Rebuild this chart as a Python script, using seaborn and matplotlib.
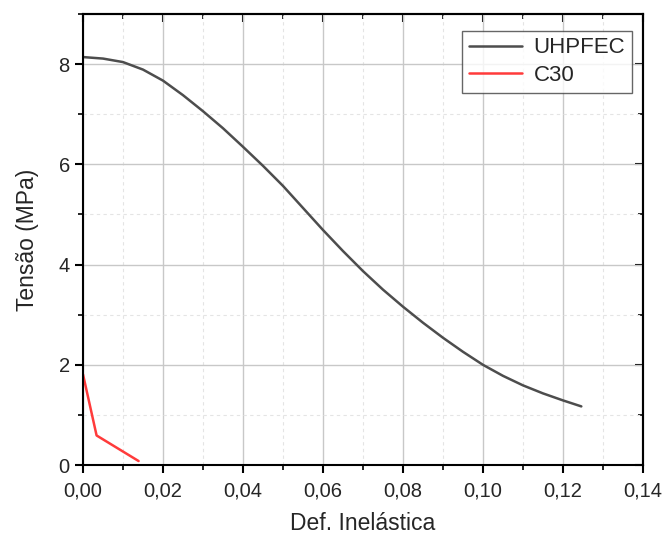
import matplotlib
matplotlib.use("Agg")
import matplotlib.pyplot as plt
from matplotlib.ticker import MultipleLocator, FuncFormatter
import pandas as pd
import seaborn as sns

# curve values
uhpfec_x = [0.0, 0.005, 0.01, 0.015, 0.02, 0.025, 0.03, 0.035, 0.04, 0.045, 0.05, 0.055, 0.06,
            0.065, 0.07, 0.075, 0.08, 0.085, 0.09, 0.095, 0.10, 0.105, 0.11, 0.115, 0.12, 0.1246]
uhpfec_y = [8.14, 8.11, 8.04, 7.89, 7.67, 7.38, 7.06, 6.72, 6.35, 5.97, 5.57, 5.13, 4.69,
            4.27, 3.87, 3.50, 3.16, 2.84, 2.54, 2.26, 2.00, 1.78, 1.59, 1.43, 1.29, 1.17]
c30_x = [0.0, 0.0034, 0.0139]
c30_y = [1.81, 0.59, 0.08]

df = pd.concat([
    pd.DataFrame({"x": uhpfec_x, "y": uhpfec_y, "serie": "UHPFEC"}),
    pd.DataFrame({"x": c30_x, "y": c30_y, "serie": "C30"}),
])

sns.set_style("white")
plt.rcParams['font.family'] = ['Liberation Sans', 'DejaVu Sans']

fig = plt.figure(figsize=(6.65, 5.37), dpi=100)
ax = fig.add_axes([0.1248, 0.134, 0.842, 0.84])

sns.lineplot(data=df, x="x", y="y", hue="serie", palette={"UHPFEC": "#4d4d4d", "C30": "#ff3b3b"},
             sort=False, linewidth=1.8, ax=ax)
for ln in ax.lines:
    ln.set_solid_joinstyle('round')

ax.set_xlim(0, 0.14)
ax.set_ylim(0, 9)
ax.xaxis.set_major_locator(MultipleLocator(0.02))
ax.xaxis.set_minor_locator(MultipleLocator(0.01))
ax.yaxis.set_major_locator(MultipleLocator(2))
ax.yaxis.set_minor_locator(MultipleLocator(1))
ax.xaxis.set_major_formatter(FuncFormatter(lambda v, p: f"{v:.2f}".replace(".", ",")))
ax.yaxis.set_major_formatter(FuncFormatter(lambda v, p: f"{v:.0f}"))

ax.grid(which='major', color='#c8c8c8', linewidth=1.0, linestyle='-')
ax.grid(which='minor', color='#e4e4e4', linewidth=0.8, linestyle=(0, (3, 3)))
ax.set_axisbelow(True)

for s in ax.spines.values():
    s.set_color('black')
    s.set_linewidth(1.5)

ax.tick_params(which='both', direction='out', bottom=True, left=True, top=False, right=False,
               color='black', labelsize=14.5)
ax.tick_params(which='major', length=6, width=1.5)
ax.tick_params(which='minor', length=3.5, width=1.2)
ax.xaxis.set_tick_params(pad=6)

# inward ticks on top and right
ax_top = ax.secondary_xaxis('top')
ax_top.xaxis.set_major_locator(MultipleLocator(0.02))
ax_top.xaxis.set_minor_locator(MultipleLocator(0.01))
ax_top.tick_params(which='both', direction='in', labeltop=False, color='black')
ax_top.tick_params(which='major', length=6, width=1.5)
ax_top.tick_params(which='minor', length=3.5, width=1.2)
ax_right = ax.secondary_yaxis('right')
ax_right.yaxis.set_major_locator(MultipleLocator(2))
ax_right.yaxis.set_minor_locator(MultipleLocator(1))
ax_right.tick_params(which='both', direction='in', labelright=False, color='black')
ax_right.tick_params(which='major', length=6, width=1.5)
ax_right.tick_params(which='minor', length=3.5, width=1.2)
for s in list(ax_top.spines.values()) + list(ax_right.spines.values()):
    s.set_linewidth(1.5)

ax.set_xlabel("Def. Inelástica", fontsize=16.5, labelpad=8)
ax.set_ylabel("Tensão (MPa)", fontsize=16.5, labelpad=14)

leg = ax.legend(title=None, loc='upper right', bbox_to_anchor=(0.98, 0.963), fontsize=16,
                frameon=True, fancybox=False, handlelength=2.4, borderpad=0.3, labelspacing=0.3,
                handletextpad=0.5, borderaxespad=0)
leg.get_frame().set_edgecolor('#404040')
leg.get_frame().set_linewidth(1.0)

fig.savefig("out.png", dpi=100)
